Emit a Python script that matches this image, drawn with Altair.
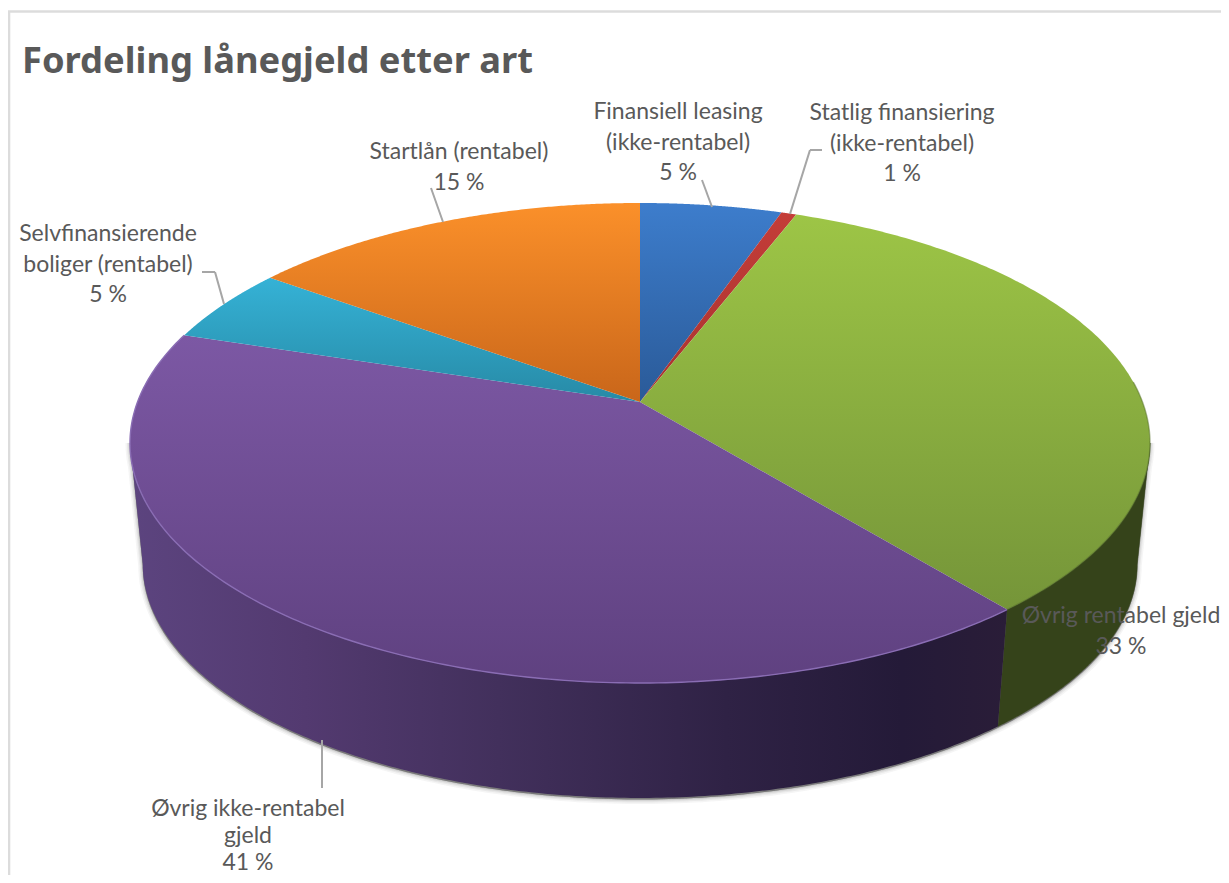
import numpy as np
import pandas as pd
import altair as alt

# ---------- data ----------
categories = ["Finansiell leasing (ikke-rentabel)", "Statlig finansiering (ikke-rentabel)",
              "Øvrig rentabel gjeld", "Øvrig ikke-rentabel gjeld",
              "Selvfinansierende boliger (rentabel)", "Startlån (rentabel)"]
shares = [5.3, 0.57, 33.2, 40.8, 5.1, 15.03]
percent_labels = ["5 %", "1 %", "33 %", "41 %", "5 %", "15 %"]
label_lines = [["Finansiell leasing", "(ikke-rentabel)"],
               ["Statlig finansiering", "(ikke-rentabel)"],
               ["Øvrig rentabel gjeld"],
               ["Øvrig ikke-rentabel", "gjeld"],
               ["Selvfinansierende", "boliger (rentabel)"],
               ["Startlån (rentabel)"]]
title_text = "Fordeling lånegjeld etter art"

# ---------- layout / style (page pixels, page margin 8) ----------
M = 8
CX, CY = 640 - M, 402 - M
A, B, K = 502.5, 233.0, 0.1708
WALL_S, WALL_Y = 0.975, 524 - M
label_pos = [(678, 112), (902, 113), (1121, 616), (248, 809), (108, 234), (459, 152)]
LINE_H = [30.5, 30.5, 30.5, 27, 30.5, 30.5]
leaders = [[(702, 180), (712, 207)],
           [(822, 150), (810, 150), (790, 214)],
           [(322, 740), (322, 788)],
           [(202, 272), (215, 272), (224, 304)],
           [(431, 188), (443, 222)]]
top_colors = [("#3d7dcc", "#2a5a98"), ("#c43d38", "#a83230"), ("#9dc546", "#759539"),
              ("#7c58a4", "#5f4180"), ("#35b2d6", "#278aa6"), ("#fb902a", "#c9661a")]


def ell(theta_deg, s=1.0, cy=CY):
    t = np.radians(theta_deg)
    x, y = np.sin(t), np.cos(t)
    w = 1 + K * y
    return np.c_[CX + s * A * x / w, cy - s * B * y / w]


def polygon(points):
    pts = [[float(a), float(b)] for a, b in points]
    pts.append(pts[0])
    return {"type": "Feature", "properties": {},
            "geometry": {"type": "Polygon", "coordinates": [pts]}}


def polyline(points):
    return {"type": "Feature", "properties": {},
            "geometry": {"type": "LineString", "coordinates": [[float(a), float(b)] for a, b in points]}}


def geo(feature, **style):
    return alt.Chart(alt.InlineData(values=[feature])).mark_geoshape(**style).project(
        type="identity", scale=1, translate=[0, 0])


def vgrad(c0, c1):
    return alt.LinearGradient(gradient="linear", x1=0, y1=0, x2=0, y2=1,
                              stops=[alt.GradientStop(color=c0, offset=0),
                                     alt.GradientStop(color=c1, offset=1)])


def hgrad(stops):
    return alt.LinearGradient(gradient="linear", x1=0, y1=0, x2=1, y2=0,
                              stops=[alt.GradientStop(color=c, offset=o) for o, c in stops])


edges = np.concatenate([[0], np.cumsum(shares)]) / np.sum(shares) * 360
SIL_R = np.degrees(np.arccos(-K))   # right silhouette angle of the disc
SIL_L = 360 - SIL_R                 # left silhouette angle
layers = []


def strip(t0, t1, dy=0.0):
    th = np.linspace(t0, t1, 200)
    return polygon(np.r_[ell(th), ell(th[::-1], s=WALL_S, cy=WALL_Y + dy)])


# soft shadow below the disc
for width, op in [(9, 0.05), (6, 0.07), (3.5, 0.09), (1.5, 0.12)]:
    layers.append(geo(strip(SIL_R, SIL_L, dy=1.5), fill="#404040", fillOpacity=0.2,
                      stroke="#404040", strokeOpacity=op, strokeWidth=width))

# side walls
layers.append(geo(strip(SIL_R, edges[3]), fill="#35431a", stroke="#35431a", strokeWidth=0.5))
layers.append(geo(strip(edges[3], SIL_L),
                  fill=hgrad([(0, "#5c447f"), (0.2, "#533a70"), (0.42, "#42305c"),
                              (0.68, "#2f2245"), (0.88, "#241a38"), (1, "#2a1d38")]),
                  stroke=None))

# top faces
for i in range(len(shares)):
    th = np.linspace(edges[i], edges[i + 1], 160)
    pts = np.r_[[[CX, CY]], ell(th)]
    layers.append(geo(polygon(pts), fill=vgrad(*top_colors[i]), stroke=None))

# rims: lighter along the purple slice, darker along the green one
layers.append(geo(polyline(ell(np.linspace(edges[3], edges[4], 200))),
                  filled=False, stroke="#8a6db4", strokeWidth=1.4))
layers.append(geo(polyline(ell(np.linspace(85, edges[3], 120))),
                  filled=False, stroke="#566f2a", strokeWidth=1.4, strokeOpacity=0.5))

# frame lines
frame = pd.DataFrame({"x": [0, 1], "x2": [1213, 1], "y": [3.5, 3.5], "y2": [3.5, 867]})
layers.append(alt.Chart(frame).mark_rule(color="#dcdcdc", strokeWidth=2.6).encode(
    x=alt.X("x:Q", scale=None), x2="x2:Q", y=alt.Y("y:Q", scale=None), y2="y2:Q"))

# leader lines
seg_rows = []
for line in leaders:
    for (x0, y0), (x1, y1) in zip(line[:-1], line[1:]):
        seg_rows.append({"x": x0 - M, "x2": x1 - M, "y": y0 - M, "y2": y1 - M})
layers.append(alt.Chart(pd.DataFrame(seg_rows)).mark_rule(color="#a6a6a6", strokeWidth=2).encode(
    x=alt.X("x:Q", scale=None), x2="x2:Q", y=alt.Y("y:Q", scale=None), y2="y2:Q"))

# labels
rows = []
for lines, pct, (x, y), lh in zip(label_lines, percent_labels, label_pos, LINE_H):
    for j, t in enumerate(lines + [pct]):
        rows.append({"x": x - M, "y": y - M + j * lh, "t": t})
layers.append(alt.Chart(pd.DataFrame(rows)).mark_text(
    font="Lato", fontSize=23, color="#595959", align="center", baseline="middle").encode(
    x=alt.X("x:Q", scale=None), y=alt.Y("y:Q", scale=None), text="t:N"))

# title
layers.append(alt.Chart(pd.DataFrame({"x": [22 - M], "y": [62 - M], "t": [title_text]})).mark_text(
    font="Noto Sans", fontWeight="bold", fontSize=36.3, color="#595959", align="left", baseline="middle").encode(
    x=alt.X("x:Q", scale=None), y=alt.Y("y:Q", scale=None), text="t:N"))

chart = alt.layer(*layers).properties(
    width=1213, height=867, padding=0, autosize=alt.AutoSizeParams(type="none"),
    background="white").configure_view(stroke=None)

chart.save("out.html", embed_options={"renderer": "svg", "actions": False})
